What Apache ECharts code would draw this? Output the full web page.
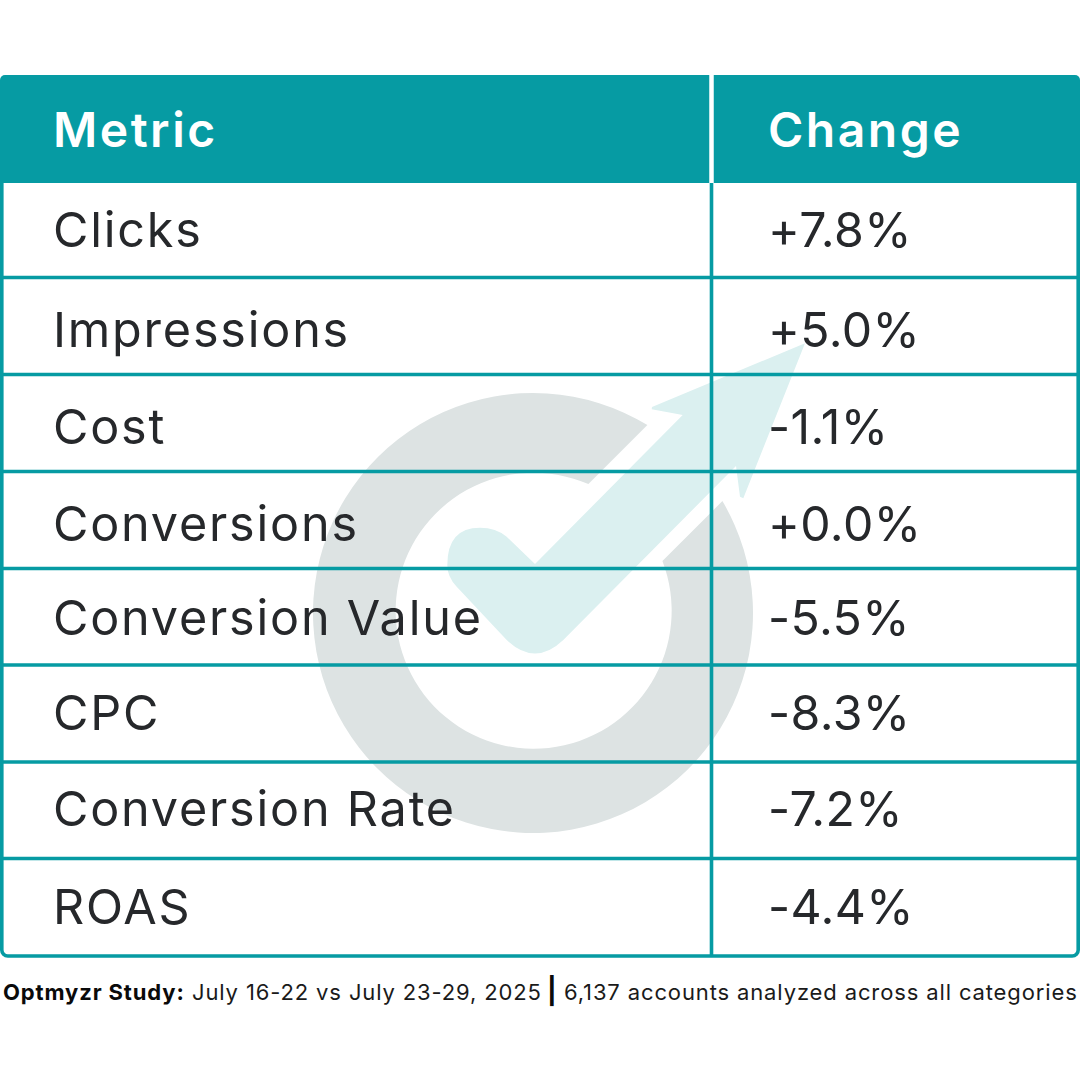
<!DOCTYPE html>
<html><head><meta charset="utf-8">
<style>
html,body{margin:0;padding:0;background:#fff}
#c{width:1080px;height:1080px}
svg text[style*="48.5px"]{letter-spacing:1.8px}
svg text[style*="48.2px"]{letter-spacing:.4px}
svg text[style*="48px"]{letter-spacing:2.5px}
svg text[style*="22px"]{letter-spacing:.87px}
</style>
<script src="https://cdn.jsdelivr.net/npm/echarts@6/dist/echarts.min.js"></script>
</head><body><div id="c"></div>
<script>
const columns = ['Metric', 'Change'];
const metrics = ['Clicks','Impressions','Cost','Conversions','Conversion Value','CPC','Conversion Rate','ROAS'];
const changes = [7.8, 5.0, -1.1, 0.0, -5.5, -8.3, -7.2, -4.4];
const footnoteLead = 'Optmyzr Study:';
const footnoteDates = 'July 16-22 vs July 23-29, 2025';
const footnoteBar = '|';
const footnoteScope = '6,137 accounts analyzed across all categories';

const TEAL = '#069ba3', INK = '#26282b';
const columnSplit = 711.5 / 1080;
const lineNudge = [-2.1, -1.7, -1.4, -1, -1.1, -0.8, -0.9, 0];
const textNudge = [-2, 2, 2, 2, 0, -2, -3, -1];
const textX = [53, 768];

const fmt = v => (v >= 0 ? '+' : '-') + Math.abs(v).toFixed(1) + '%';

const ringPath = 'M648,427 A220,220 0 1 0 723,503 L663,563 A138,138 0 1 1 589,486 Z';
const arrowPath = 'M805,343.3 L743.3,498.3 L740,496.7 L736,466 L563.3,640 Q535,667 506.7,640 L456.7,586.7 Q447.3,577 447.3,565 Q447.3,527.7 480,527.7 Q496,527.7 506.7,536.7 L535,564 L682.7,415 L651.7,409.3 L652,407 Z';

const option = {
  animation: false,
  backgroundColor: '#fff',
  grid: [
    {left: 0, right: 0, top: 75, height: 108},
    {left: 0, right: 0, top: 183, height: 773}
  ],
  xAxis: [
    {gridIndex: 0, type: 'value', min: 0, max: 1, show: false},
    {gridIndex: 1, type: 'value', min: 0, max: 1, show: false}
  ],
  yAxis: [
    {gridIndex: 0, type: 'category', data: ['header'], show: false},
    {gridIndex: 1, type: 'category', data: metrics, inverse: true, show: false}
  ],
  graphic: [
    {type: 'text', x: 3, y: 981, z: 5, style: {text: footnoteLead, font: '700 22px Inter', fill: '#0a0a0a'}},
    {type: 'text', x: 192, y: 981, z: 5, style: {text: footnoteDates, font: '400 22px Inter', fill: '#1a1a1a'}},
    {type: 'text', x: 547, y: 977, z: 5, style: {text: footnoteBar, font: '700 26px Inter', fill: '#0a0a0a'}},
    {type: 'text', x: 564, y: 981, z: 5, style: {text: footnoteScope, font: '400 22px Inter', fill: '#1a1a1a'}}
  ],
  series: [
    {
      // watermark logo behind the table
      type: 'custom', coordinateSystem: 'none', z: 1, silent: true,
      data: [0],
      renderItem() {
        return {type: 'group', children: [
          {type: 'path', shape: {pathData: ringPath, layout: 'cover', x: 313, y: 393, width: 440, height: 440}, style: {fill: '#dde3e3'}},
          {type: 'path', shape: {pathData: arrowPath, layout: 'cover', x: 447.3, y: 343.3, width: 357.7, height: 310.2}, style: {fill: '#dbf0f0'}}
        ]};
      }
    },
    {
      // body rows
      type: 'custom', xAxisIndex: 1, yAxisIndex: 1, z: 3,
      coordinateSystem: 'cartesian2d', silent: true,
      data: metrics.map((m, i) => [changes[i], i]),
      renderItem(params, api) {
        const i = api.value(1);
        const c = api.coord([0, i]);
        const band = api.size([0, 1])[1];
        const x0 = c[0], x1 = api.coord([1, i])[0], sx = api.coord([columnSplit, i])[0];
        const yTop = c[1] - band / 2 + (i ? lineNudge[i - 1] : 0);
        const yBot = c[1] + band / 2 + lineNudge[i];
        const last = i === metrics.length - 1;
        const line = {stroke: TEAL, lineWidth: 3.6, fill: null};
        const kids = [
          {type: 'line', shape: {x1: sx, y1: yTop, x2: sx, y2: yBot}, style: line},
          {type: 'text', style: {text: metrics[i], x: textX[0], y: c[1] + textNudge[i], font: '400 48.5px Inter', fill: INK, verticalAlign: 'middle'}},
          {type: 'text', style: {text: fmt(api.value(0)), x: textX[1], y: c[1] + textNudge[i], font: '400 48.2px Inter', fill: INK, verticalAlign: 'middle'}}
        ];
        if (last) {
          const topOfBody = yBot - band * metrics.length - 3;
          kids.push({type: 'rect', shape: {x: 1.8, y: topOfBody, width: x1 - 3.6, height: yBot - topOfBody, r: [0,0,6,6]}, style: line});
        } else {
          kids.push({type: 'line', shape: {x1: x0, y1: yBot, x2: x1, y2: yBot}, style: line});
        }
        return {type: 'group', children: kids};
      }
    },
    {
      // header band, drawn over the top of the body frame
      type: 'custom', xAxisIndex: 0, yAxisIndex: 0, z: 4,
      coordinateSystem: 'cartesian2d', silent: true,
      data: columns.map((c, i) => [i, 0]),
      renderItem(params, api) {
        const i = api.value(0);
        const cy = api.coord([0, 0])[1];
        const h = api.size([0, 1])[1];
        const x0 = api.coord([0, 0])[0], x1 = api.coord([1, 0])[0], sx = api.coord([columnSplit, 0])[0];
        const l = i === 0 ? x0 : sx, r = i === 0 ? sx : x1;
        return {type: 'group', children: [
          {type: 'rect', shape: {x: l, y: cy - h / 2, width: r - l, height: h, r: i === 0 ? [5,0,0,0] : [0,5,0,0]}, style: {fill: TEAL}},
          {type: 'line', z2: 2, shape: {x1: sx, y1: cy - h / 2, x2: sx, y2: cy + h / 2}, style: {stroke: '#fff', lineWidth: 4}},
          {type: 'text', z2: 3, style: {text: columns[i], x: textX[i], y: cy, font: '600 48px Inter', fill: '#fff', verticalAlign: 'middle'}}
        ]};
      }
    }
  ]
};

const chart = echarts.init(document.getElementById('c'), null, {renderer: 'svg', width: 1080, height: 1080});
chart.setOption(option);
</script></body></html>
